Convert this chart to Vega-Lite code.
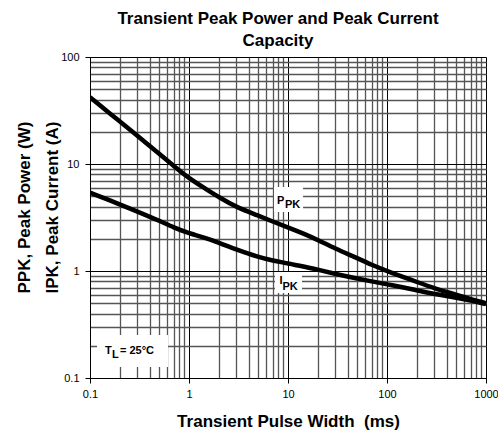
{
  "$schema": "https://vega.github.io/schema/vega-lite/v6.json",
  "width": 396,
  "height": 321,
  "autosize": {"type": "none"},
  "padding": {"left": 90, "top": 57, "right": 12, "bottom": 54},
  "background": "white",
  "config": {"view": {"stroke": null}, "font": "Liberation Sans"},
  "title": {
    "text": ["Transient Peak Power and Peak Current", "Capacity"],
    "fontSize": 17,
    "fontWeight": "bold",
    "font": "Liberation Sans",
    "color": "black",
    "lineHeight": 22,
    "anchor": "middle",
    "frame": "group",
    "dx": -10,
    "offset": 1
  },
  "datasets": {
    "curves": [
      {"series": "PPK", "x": 0.1, "y": 42},
      {"series": "PPK", "x": 0.2, "y": 25},
      {"series": "PPK", "x": 0.3, "y": 18.4},
      {"series": "PPK", "x": 0.5, "y": 12.5},
      {"series": "PPK", "x": 0.7, "y": 9.6},
      {"series": "PPK", "x": 1, "y": 7.35},
      {"series": "PPK", "x": 1.5, "y": 5.8},
      {"series": "PPK", "x": 2, "y": 4.9},
      {"series": "PPK", "x": 3, "y": 3.95},
      {"series": "PPK", "x": 5, "y": 3.3},
      {"series": "PPK", "x": 7, "y": 2.9},
      {"series": "PPK", "x": 10, "y": 2.55},
      {"series": "PPK", "x": 15, "y": 2.2},
      {"series": "PPK", "x": 20, "y": 1.95},
      {"series": "PPK", "x": 30, "y": 1.62},
      {"series": "PPK", "x": 50, "y": 1.32},
      {"series": "PPK", "x": 70, "y": 1.14},
      {"series": "PPK", "x": 100, "y": 1.0},
      {"series": "PPK", "x": 150, "y": 0.87},
      {"series": "PPK", "x": 200, "y": 0.79},
      {"series": "PPK", "x": 300, "y": 0.69},
      {"series": "PPK", "x": 500, "y": 0.6},
      {"series": "PPK", "x": 700, "y": 0.545},
      {"series": "PPK", "x": 1000, "y": 0.5},
      {"series": "IPK", "x": 0.1, "y": 5.4},
      {"series": "IPK", "x": 0.2, "y": 4.2},
      {"series": "IPK", "x": 0.3, "y": 3.6},
      {"series": "IPK", "x": 0.5, "y": 2.95},
      {"series": "IPK", "x": 0.7, "y": 2.55},
      {"series": "IPK", "x": 1, "y": 2.25},
      {"series": "IPK", "x": 1.5, "y": 2.02},
      {"series": "IPK", "x": 2, "y": 1.84},
      {"series": "IPK", "x": 3, "y": 1.59},
      {"series": "IPK", "x": 5, "y": 1.35},
      {"series": "IPK", "x": 7, "y": 1.25},
      {"series": "IPK", "x": 10, "y": 1.18},
      {"series": "IPK", "x": 15, "y": 1.09},
      {"series": "IPK", "x": 20, "y": 1.03},
      {"series": "IPK", "x": 30, "y": 0.94},
      {"series": "IPK", "x": 50, "y": 0.85},
      {"series": "IPK", "x": 70, "y": 0.8},
      {"series": "IPK", "x": 100, "y": 0.75},
      {"series": "IPK", "x": 150, "y": 0.7},
      {"series": "IPK", "x": 200, "y": 0.66},
      {"series": "IPK", "x": 300, "y": 0.61},
      {"series": "IPK", "x": 500, "y": 0.565},
      {"series": "IPK", "x": 700, "y": 0.53},
      {"series": "IPK", "x": 1000, "y": 0.49}
    ],
    "boxes": [
      {"x": 7.22, "x2": 14.2, "y": 6.1, "y2": 3.56},
      {"x": 7.39, "x2": 13.85, "y": 0.98, "y2": 0.623},
      {"x": 0.1177, "x2": 0.614, "y": 0.252, "y2": 0.1268}
    ],
    "labels": [
      {"t": "P", "x": 7.74, "y": 4.23},
      {"t": "PK", "x": 9.33, "y": 3.92},
      {"t": "I", "x": 8.2, "y": 0.764},
      {"t": "PK", "x": 8.8, "y": 0.665},
      {"t": "T", "x": 0.1418, "y": 0.1694},
      {"t": "L", "x": 0.1668, "y": 0.1554},
      {"t": "= 25°C", "x": 0.2009, "y": 0.1694}
    ]
  },
  "encoding": {
    "x": {
      "field": "x",
      "type": "quantitative",
      "scale": {"type": "log", "domain": [0.1, 1000], "nice": false},
      "axis": {
        "values": [0.1,0.2,0.3,0.4,0.5,0.6,0.7,0.8,0.9,1,2,3,4,5,6,7,8,9,10,20,30,40,50,60,70,80,90,100,200,300,400,500,600,700,800,900,1000],
        "grid": true,
        "gridColor": {"condition": {"test": "abs(log(datum.value)/LN10 - round(log(datum.value)/LN10)) < 0.001", "value": "black"}, "value": "#555555"},
        "gridWidth": {"condition": {"test": "abs(log(datum.value)/LN10 - round(log(datum.value)/LN10)) < 0.001", "value": 1}, "value": 1.3},
        "gridOpacity": 1,
        "tickColor": {"condition": {"test": "abs(log(datum.value)/LN10 - round(log(datum.value)/LN10)) < 0.001", "value": "black"}, "value": "transparent"},
        "tickSize": 5,
        "labelExpr": "abs(log(datum.value)/LN10 - round(log(datum.value)/LN10)) < 0.001 ? format(datum.value, '~g') : ''",
        "labelFlush": false,
        "labelOverlap": false,
        "labelFontSize": 11,
        "labelColor": "black",
        "labelPadding": 5,
        "domainColor": "black",
        "title": "Transient Pulse Width\u00a0\u00a0(ms)",
        "titleFontSize": 17,
        "titleFontWeight": "bold",
        "titleColor": "black",
        "titlePadding": 14
      }
    },
    "y": {
      "field": "y",
      "type": "quantitative",
      "scale": {"type": "log", "domain": [0.1, 100], "nice": false},
      "axis": {
        "values": [0.1,0.2,0.3,0.4,0.5,0.6,0.7,0.8,0.9,1,2,3,4,5,6,7,8,9,10,20,30,40,50,60,70,80,90,100],
        "grid": true,
        "gridColor": {"condition": {"test": "abs(log(datum.value)/LN10 - round(log(datum.value)/LN10)) < 0.001", "value": "black"}, "value": "#555555"},
        "gridWidth": {"condition": {"test": "abs(log(datum.value)/LN10 - round(log(datum.value)/LN10)) < 0.001", "value": 1}, "value": 1.3},
        "gridOpacity": 1,
        "tickColor": {"condition": {"test": "abs(log(datum.value)/LN10 - round(log(datum.value)/LN10)) < 0.001", "value": "black"}, "value": "transparent"},
        "tickSize": 5,
        "labelExpr": "abs(log(datum.value)/LN10 - round(log(datum.value)/LN10)) < 0.001 ? format(datum.value, '~g') : ''",
        "labelOverlap": false,
        "labelFontSize": 11,
        "labelColor": "black",
        "labelPadding": 6,
        "domainColor": "black",
        "title": ["PPK, Peak Power (W)", "IPK, Peak Current (A)"],
        "titleFontSize": 17,
        "titleFontWeight": "bold",
        "titleColor": "black",
        "titleLineHeight": 28,
        "titleAngle": 270,
        "titleAlign": "center",
        "titleBaseline": "alphabetic",
        "titleX": -61,
        "titleY": 150
      }
    }
  },
  "layer": [
    {
      "data": {"name": "boxes"},
      "mark": {"type": "rect", "fill": "white", "stroke": null},
      "encoding": {
        "x2": {"field": "x2"},
        "y2": {"field": "y2"}
      }
    },
    {
      "data": {"name": "curves"},
      "mark": {"type": "line", "color": "black", "strokeWidth": 4.5, "interpolate": "basis", "clip": true},
      "encoding": {
        "detail": {"field": "series", "type": "nominal"}
      }
    },
    {
      "data": {"name": "labels"},
      "mark": {"type": "text", "align": "left", "baseline": "alphabetic", "fontSize": 11, "fontWeight": "bold", "color": "black", "font": "Liberation Sans"},
      "encoding": {
        "text": {"field": "t", "type": "nominal"}
      }
    }
  ]
}
